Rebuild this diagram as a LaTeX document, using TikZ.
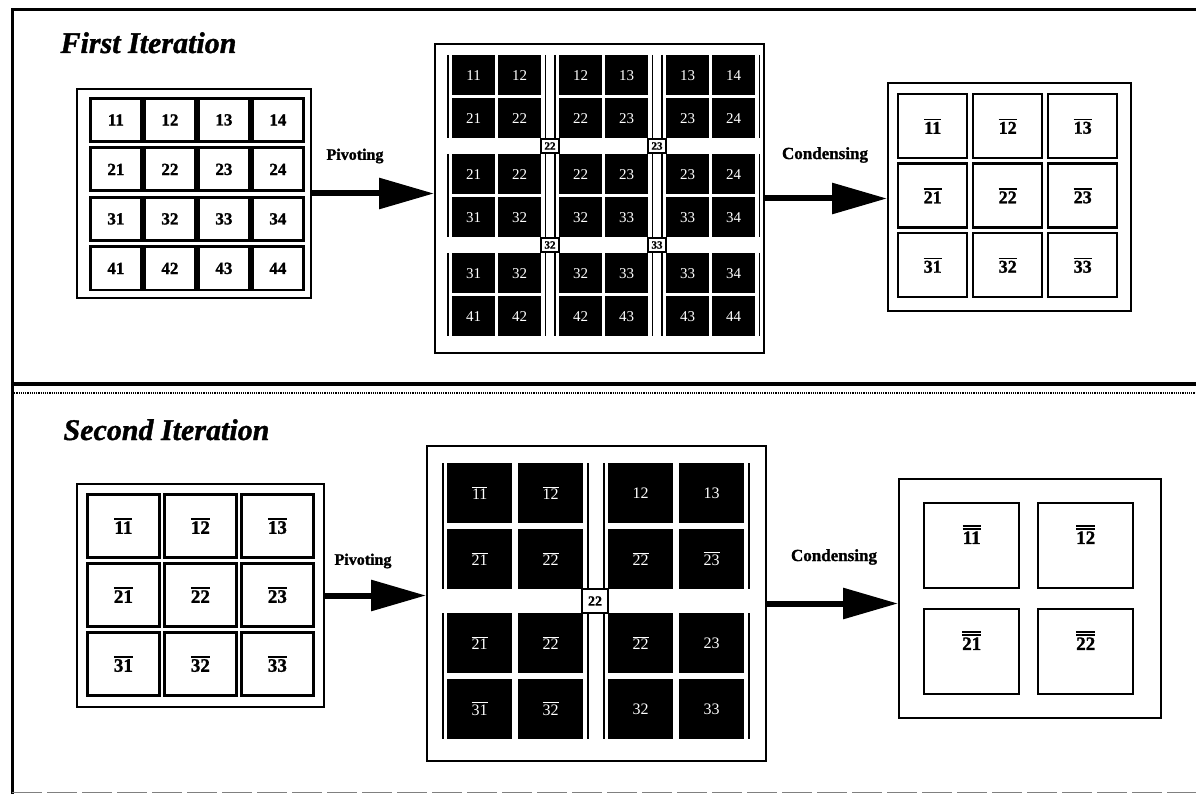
\documentclass[tikz,border=0pt]{standalone}
\usepackage{fontspec}
\setmainfont{Liberation Serif}[
  BoldFeatures={FakeBold=1.3},
  BoldItalicFeatures={FakeBold=1.2}]
\newfontfamily\plainserif{Liberation Serif}
\usetikzlibrary{arrows.meta,calc}
% bar over an entry (single and double)
\newcommand\ovl[1]{\leavevmode\vbox{\hrule height 1.7pt\kern 1.6pt\hbox{#1}}}
\newcommand\dovl[1]{\leavevmode\vbox{\hrule height 1.6pt\kern 1pt\hrule height 1.6pt\kern 1.8pt\hbox{#1}}}
\newcommand\thinovl[1]{\leavevmode\vbox{\hrule height 0.9pt\kern 1.8pt\hbox{#1}}}
\begin{document}
\begin{tikzpicture}[x=1pt,y=-1pt,
  frameline/.style={line width=3pt},
  outerbox/.style={draw,line width=2pt,rectangle,inner sep=0pt,anchor=north west},
  litecell/.style={draw,line width=2.8pt,fill=white,inner sep=0pt,anchor=north west,
    font=\fontsize{17}{17}\selectfont\bfseries},
  darkcell/.style={fill=black,inner sep=0pt,anchor=north west,text=white,
    font=\plainserif\fontsize{15}{15}\selectfont},
  sideline/.style={line width=1.5pt},
  pivmark/.style={draw,line width=1.6pt,fill=white,inner sep=0pt,
    font=\bfseries\fontsize{11}{11}\selectfont},
  flow/.style={line width=6pt,-{Triangle[length=55pt,width=30pt]}},
  flowlabel/.style={font=\bfseries\fontsize{16}{16}\selectfont},
  title/.style={anchor=base west,font=\bfseries\itshape\fontsize{30}{30}\selectfont}
]
\useasboundingbox (0,0) rectangle (1196,794);

% frame and separator between the two iterations
\draw[frameline] (12,794) -- (12,10) -- (1196,10);
\draw[line width=4pt] (12,384) -- (1196,384);
\draw[line width=1.8pt,dash pattern=on 1.2pt off 1pt] (12,393) -- (1196,393);
\draw[gray,line width=1pt,dash pattern=on 30pt off 5pt] (12,792) -- (1196,792);

\node[title] (t1) at (57,53) {First Iteration};
\node[title] (t2) at (60,440) {Second Iteration};

% ---------------- first iteration ----------------
% 4x4 input matrix
\node[outerbox,minimum width=234pt,minimum height=209pt] (A1) at (76,88) {};
\foreach \r in {1,...,4}
  \foreach \c in {1,...,4}
    \node[litecell,minimum width=51pt,minimum height=43pt]
      (a1-\r\c) at ({89+54*(\c-1)},{97+49.5*(\r-1)}) {\r\c};

% pivoted blocks
\node[outerbox,minimum width=329pt,minimum height=309pt] (B1) at (434,43) {};
\foreach \br in {1,2,3}
  \foreach \bc in {1,2,3} {
    \foreach \i in {1,2}
      \foreach \j in {1,2} {
        \pgfmathtruncatemacro\rr{\br+\i-1}
        \pgfmathtruncatemacro\cc{\bc+\j-1}
        \node[darkcell,minimum width=43pt,minimum height=40pt]
          (b1-\br\bc-\i\j) at ({452+107*(\bc-1)+46*(\j-1)},{55+99*(\br-1)+43*(\i-1)}) {\rr\cc};
      }
    \draw[sideline] ($(b1-\br\bc-11.north west)+(-4,0)$) -- ($(b1-\br\bc-21.south west)+(-4,0)$);
    \draw[sideline] ($(b1-\br\bc-12.north east)+(4,0)$) -- ($(b1-\br\bc-22.south east)+(4,0)$);
  }
\node[pivmark,minimum width=18pt,minimum height=14pt] (p1-22) at (550,146) {22};
\node[pivmark,minimum width=18pt,minimum height=14pt] (p1-23) at (657,146) {23};
\node[pivmark,minimum width=18pt,minimum height=14pt] (p1-32) at (550,245) {32};
\node[pivmark,minimum width=18pt,minimum height=14pt] (p1-33) at (657,245) {33};

% condensed 3x3 matrix
\node[outerbox,minimum width=243pt,minimum height=228pt] (C1) at (887,82) {};
\foreach \r in {1,2,3}
  \foreach \c in {1,2,3}
    \node[litecell,line width=2.4pt,minimum width=69pt,minimum height=64pt,
      font=\fontsize{18}{18}\selectfont\bfseries]
      (c1-\r\c) at ({897+75*(\c-1)},{93+69.5*(\r-1)}) {\ovl{\r\c}};

\draw[flow] (A1.east) -- (A1.east -| B1.west);
\draw[flow] (B1.east) -- (B1.east -| C1.west);
\node[flowlabel] (l1p) at (355,156) {Pivoting};
\node[flowlabel,font=\bfseries\fontsize{17}{17}\selectfont] (l1c) at (825,155) {Condensing};

% ---------------- second iteration ----------------
% 3x3 input matrix
\node[outerbox,minimum width=247pt,minimum height=223pt] (A2) at (76,483) {};
\foreach \r in {1,2,3}
  \foreach \c in {1,2,3}
    \node[litecell,minimum width=72pt,minimum height=63pt,
      font=\fontsize{19}{19}\selectfont\bfseries]
      (a2-\r\c) at ({86+77*(\c-1)},{493+69*(\r-1)}) {\ovl{\r\c}};

% pivoted blocks
\node[outerbox,minimum width=339pt,minimum height=315pt] (B2) at (426,445) {};
\foreach \br/\bc/\la/\lb/\lc/\ld in {
    1/1/\thinovl{11}/\thinovl{12}/\thinovl{21}/\thinovl{22},
    1/2/12/13/\thinovl{22}/\thinovl{23},
    2/1/\thinovl{21}/\thinovl{22}/\thinovl{31}/\thinovl{32},
    2/2/\thinovl{22}/23/32/33} {
  \node[darkcell,font=\plainserif\fontsize{16}{16}\selectfont,minimum width=65pt,minimum height=60pt]
    (b2-\br\bc-11) at ({447+161*(\bc-1)},{463+150*(\br-1)}) {\la};
  \node[darkcell,font=\plainserif\fontsize{16}{16}\selectfont,minimum width=65pt,minimum height=60pt]
    (b2-\br\bc-12) at ({518+161*(\bc-1)},{463+150*(\br-1)}) {\lb};
  \node[darkcell,font=\plainserif\fontsize{16}{16}\selectfont,minimum width=65pt,minimum height=60pt]
    (b2-\br\bc-21) at ({447+161*(\bc-1)},{529+150*(\br-1)}) {\lc};
  \node[darkcell,font=\plainserif\fontsize{16}{16}\selectfont,minimum width=65pt,minimum height=60pt]
    (b2-\br\bc-22) at ({518+161*(\bc-1)},{529+150*(\br-1)}) {\ld};
  \draw[sideline,line width=2pt] ($(b2-\br\bc-11.north west)+(-4,0)$) -- ($(b2-\br\bc-21.south west)+(-4,0)$);
  \draw[sideline,line width=2pt] ($(b2-\br\bc-12.north east)+(5,0)$) -- ($(b2-\br\bc-22.south east)+(5,0)$);
}
\node[pivmark,minimum width=26pt,minimum height=24pt,font=\bfseries\fontsize{14}{14}\selectfont]
  (p2-22) at (595,601) {22};

% condensed 2x2 matrix
\node[outerbox,minimum width=262pt,minimum height=239pt] (C2) at (898,478) {};
\foreach \r in {1,2}
  \foreach \c in {1,2}
    \node[litecell,line width=2.4pt,minimum width=95pt,minimum height=85pt,text depth=22pt,
      font=\fontsize{19}{19}\selectfont\bfseries]
      (c2-\r\c) at ({923+114*(\c-1)},{502+106*(\r-1)}) {\dovl{\r\c}};

\draw[flow] (A2.east) -- (A2.east -| B2.west);
\draw[flow] (B2.east) -- (B2.east -| C2.west);
\node[flowlabel] (l2p) at (363,561) {Pivoting};
\node[flowlabel,font=\bfseries\fontsize{17}{17}\selectfont] (l2c) at (834,557) {Condensing};
\end{tikzpicture}
\end{document}
